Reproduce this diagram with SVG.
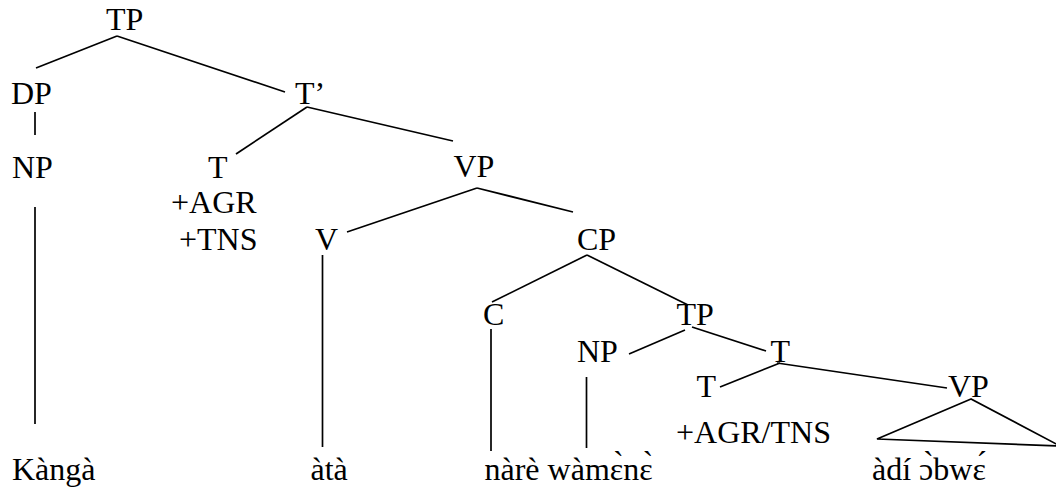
<svg xmlns="http://www.w3.org/2000/svg" width="1056" height="488" viewBox="0 0 1056 488">
<style>
.e{stroke:#000;stroke-width:1.7;fill:none;stroke-linecap:butt}
</style>
<rect width="1056" height="488" fill="#fff"/>
<g id="connectors" class="e">
<line x1="117" y1="36" x2="36" y2="68"/>
<line x1="117" y1="36" x2="285" y2="92"/>
<line x1="35" y1="112" x2="35" y2="135"/>
<line x1="307" y1="107" x2="236" y2="154"/>
<line x1="307" y1="107" x2="453" y2="141"/>
<line x1="35" y1="207" x2="35" y2="424"/>
<line x1="477" y1="188" x2="347" y2="232"/>
<line x1="477" y1="188" x2="573" y2="212"/>
<line x1="322.5" y1="255" x2="322.5" y2="447"/>
<line x1="587" y1="255" x2="492" y2="302"/>
<line x1="587" y1="255" x2="688" y2="305"/>
<line x1="491" y1="329" x2="491" y2="451"/>
<line x1="685" y1="330" x2="629" y2="354"/>
<line x1="692" y1="327" x2="766" y2="351"/>
<line x1="586.5" y1="377" x2="586.5" y2="448"/>
<line x1="780" y1="363" x2="720" y2="387"/>
<line x1="777" y1="363" x2="947" y2="388"/>
<polygon points="971,399 877,439 1060,446"/>
</g>
<g font-family="Liberation Serif, Tinos, Times New Roman, DejaVu Serif, serif" font-size="32" fill="#000">
<g id="n-tp"><text x="106" y="30">TP</text></g>
<g id="n-dp"><text x="11" y="104">DP</text></g>
<g id="n-tbar"><text x="295" y="104">T’</text></g>
<g id="n-np1"><text x="12" y="178">NP</text></g>
<g id="n-t1"><text x="208" y="178">T</text><text x="171" y="213">+AGR</text><text x="179" y="250">+TNS</text></g>
<g id="n-vp1"><text x="453.5" y="177">VP</text></g>
<g id="n-v"><text x="315" y="250">V</text></g>
<g id="n-cp"><text x="577" y="250">CP</text></g>
<g id="n-c"><text x="483" y="325">C</text></g>
<g id="n-tp2"><text x="676.5" y="325">TP</text></g>
<g id="n-np2"><text x="577" y="362">NP</text></g>
<g id="n-t2"><text x="770.5" y="362">T</text></g>
<g id="n-t3"><text x="696.5" y="397">T</text><text x="676" y="443">+AGR/TNS</text></g>
<g id="n-vp2"><text x="948" y="397">VP</text></g>
<g id="w-kanga"><text x="12" y="480">Kàngà</text></g>
<g id="w-ata"><text x="310.5" y="480">àtà</text></g>
<g id="w-nare"><text x="484.5" y="480">nàrè wàmɛ̀nɛ̀</text></g>
<g id="w-adi"><text x="872" y="480">àdí ɔ̀bwɛ́</text></g>
</g>
</svg>
